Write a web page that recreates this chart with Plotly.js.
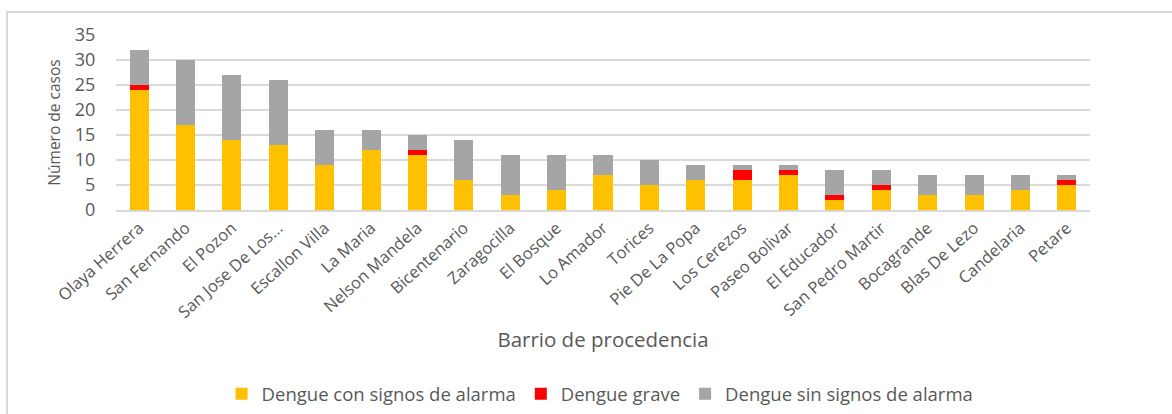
<!DOCTYPE html>
<html>
<head>
<meta charset="utf-8">
<script src="https://cdn.plot.ly/plotly-3.0.1.min.js"></script>
<style>
  html, body { margin: 0; padding: 0; background: #fff; }
  #wrap { position: relative; width: 1172px; height: 414px; overflow: hidden; }
  #frame { position: absolute; left: 6px; top: 11px; width: 1200px; height: 450px;
           border-left: 2px solid #d9d9d9; border-top: 2px solid #d9d9d9; pointer-events: none; }
  #chart { position: absolute; left: 0; top: 0; width: 1172px; height: 414px; }
</style>
</head>
<body>
<div id="wrap">
  <div id="chart"></div>
  <div id="frame"></div>
</div>
<script>
const barrios = ["Olaya Herrera", "San Fernando", "El Pozon", "San Jose De Los...", "Escallon Villa",
  "La Maria", "Nelson Mandela", "Bicentenario", "Zaragocilla", "El Bosque", "Lo Amador",
  "Torices", "Pie De La Popa", "Los Cerezos", "Paseo Bolivar", "El Educador",
  "San Pedro Martir", "Bocagrande", "Blas De Lezo", "Candelaria", "Petare"];
const conSignos = [24, 17, 14, 13, 9, 12, 11, 6, 3, 4, 7, 5, 6, 6, 7, 2, 4, 3, 3, 4, 5];
const grave     = [1, 0, 0, 0, 0, 0, 1, 0, 0, 0, 0, 0, 0, 2, 1, 1, 1, 0, 0, 0, 1];
const sinSignos = [7, 13, 13, 13, 7, 4, 3, 8, 8, 7, 4, 5, 3, 1, 1, 5, 3, 4, 4, 3, 1];
const seriesNames = ["Dengue con signos de alarma", "Dengue grave", "Dengue sin signos de alarma"];
const yTicks = [0, 5, 10, 15, 20, 25, 30, 35];

const colors = ["#FFC000", "#FF0000", "#A5A5A5"];
const vals = [conSignos, grave, sinSignos];
const txt = "#595959";
const fam = "'Open Sans', sans-serif";

const traces = vals.map((v, i) => ({
  type: "bar",
  name: seriesNames[i],
  x: barrios,
  y: v,
  marker: { color: colors[i], line: { width: 0 } },
  hoverinfo: "x+y+name"
}));

const layout = {
  width: 1172, height: 414,
  barmode: "stack",
  bargap: 0.59,
  paper_bgcolor: "rgba(0,0,0,0)",
  plot_bgcolor: "rgba(0,0,0,0)",
  margin: { l: 116, r: 82, t: 35, b: 204, pad: 0, autoexpand: false },
  font: { family: fam, color: txt, size: 14 },
  xaxis: {
    type: "category",
    tickangle: -42,
    tickfont: { family: fam, size: 16.5, color: txt },
    showgrid: false,
    showline: true, linecolor: "#d9d9d9", linewidth: 2,
    ticks: "",
    automargin: false,
    title: { text: "Barrio de procedencia", font: { family: fam, size: 20.5, color: txt }, standoff: 11 }
  },
  yaxis: {
    range: [0, 35],
    tickvals: yTicks,
    ticktext: yTicks.map(String),
    tickfont: { family: fam, size: 18, color: txt },
    showgrid: true, gridcolor: "#d9d9d9", gridwidth: 1.5,
    zeroline: false,
    showline: false,
    ticks: "outside", ticklen: 16, tickcolor: "rgba(0,0,0,0)",
    automargin: false,
    title: { text: "Número de casos", font: { family: fam, size: 15.5, color: txt }, standoff: 10 }
  },
  showlegend: true,
  legend: {
    orientation: "h",
    xref: "paper", x: 0.497, xanchor: "center",
    yref: "container", y: 0.048, yanchor: "middle",
    font: { family: fam, size: 18.5, color: txt },
    itemwidth: 30,
    traceorder: "normal",
    bgcolor: "rgba(0,0,0,0)"
  }
};

Plotly.newPlot("chart", traces, layout, { displayModeBar: false, staticPlot: true });
</script>
</body>
</html>
